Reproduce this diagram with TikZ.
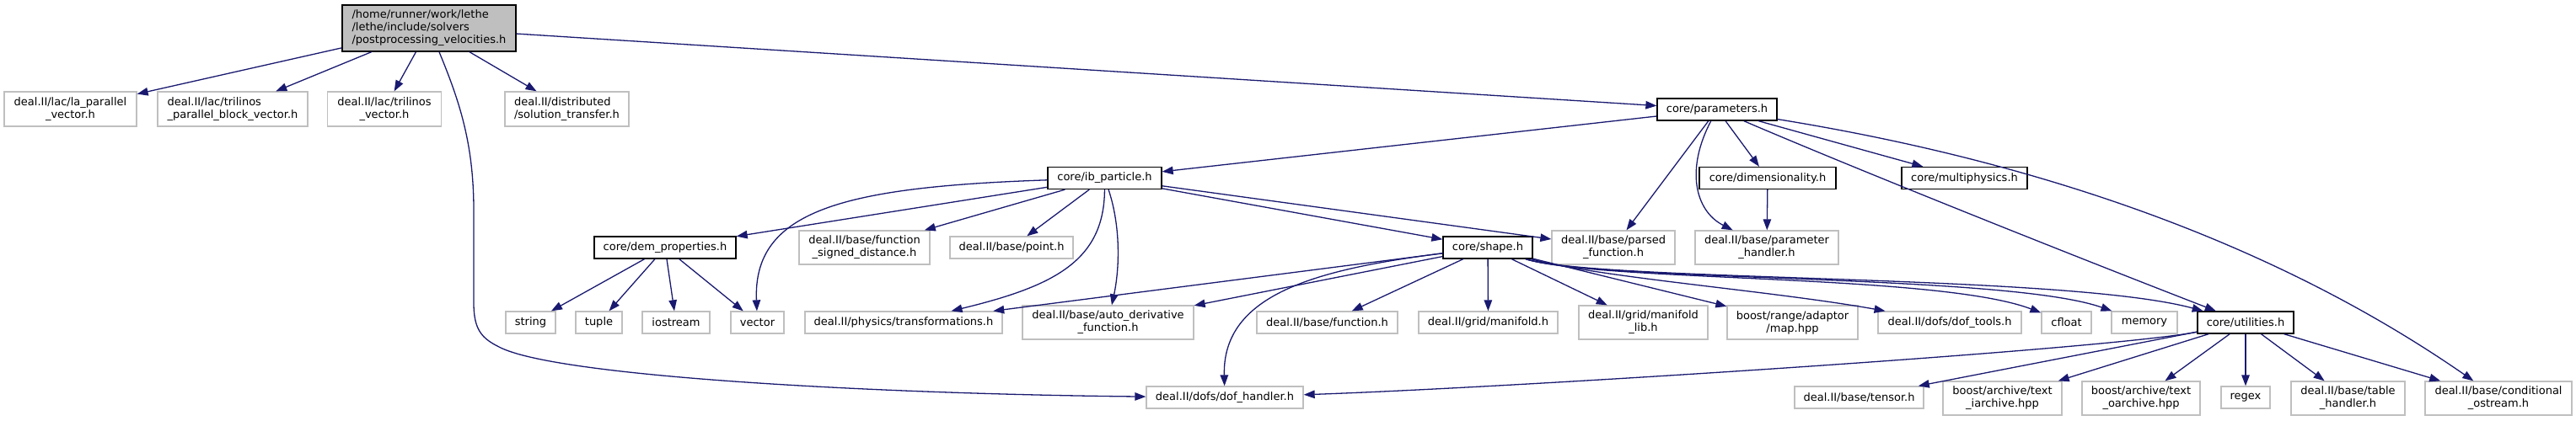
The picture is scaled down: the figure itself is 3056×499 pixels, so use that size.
\documentclass[tikz,border=0pt]{standalone}
\usepackage{fontspec}
\setmainfont{DejaVu Sans}
\usepackage{tikz}
\usetikzlibrary{arrows.meta}
\definecolor{edgeB}{HTML}{191970}
\definecolor{extG}{HTML}{BFBFBF}
\definecolor{rootG}{HTML}{BFBFBF}

\begin{document}
\begin{tikzpicture}[x=1pt, y=-1pt, font=\fontsize{13}{15}\selectfont,
  hdr/.style={draw=black, line width=1.3pt, fill=white, inner sep=0pt},
  ext/.style={draw=extG, line width=1.3pt, fill=white, inner sep=0pt},
  dep/.style={draw=edgeB, line width=1.3pt, -{Triangle[length=13pt, width=9.5pt]}}]
  \useasboundingbox (0,0) rectangle (3056,499);

  % lethe headers
  \node[hdr, fill=rootG, minimum width=206, minimum height=55, align=left] (root) at (509,33.5)
    {/home/runner/work/lethe\\/lethe/include/solvers\\/postprocessing\_velocities.h};
  \foreach \nm/\cx/\cy/\w/\txt in {
    params/2037/130/142/{core/parameters.h},
    ibPart/1310.5/211.5/135/{core/ib\_particle.h},
    dimens/2097/211.5/162/{core/dimensionality.h},
    multiPh/2330.5/211.5/149/{core/multiphysics.h},
    demProp/789/294/168/{core/dem\_properties.h},
    shape/1765/294/106/{core/shape.h},
    utils/2664/383/114/{core/utilities.h}}{
    \node[hdr, minimum width=\w, minimum height=26] (\nm) at (\cx,\cy) {\txt};
  }

  % external headers
  \foreach \nm/\cx/\cy/\w/\h/\al/\txt in {
    laVec/83.5/129.5/157/41/center/{deal.II/lac/la\_parallel\\\_vector.h},
    triPB/276/129.5/178/41/left/{deal.II/lac/trilinos\\\_parallel\_block\_vector.h},
    triVec/456/129.5/135/41/center/{deal.II/lac/trilinos\\\_vector.h},
    solTr/672.5/129.5/147/41/left/{deal.II/distributed\\/solution\_transfer.h},
    sgnDist/1025.5/294/155/40/center/{deal.II/base/function\\\_signed\_distance.h},
    point/1200/294/146/26/center/{deal.II/base/point.h},
    parsFn/1914/294/146/40/center/{deal.II/base/parsed\\\_function.h},
    parHdl/2096/294/170/40/center/{deal.II/base/parameter\\\_handler.h},
    string/629.5/383/59/26/center/{string},
    tuple/710.5/383/55/26/center/{tuple},
    iostr/802/383/80/26/center/{iostream},
    vector/898.5/383/63/26/center/{vector},
    transf/1072/383/234/26/center/{deal.II/physics/transformations.h},
    autoDer/1314.5/383/203/40/center/{deal.II/base/auto\_derivative\\\_function.h},
    func/1574.5/383/167/26/center/{deal.II/base/function.h},
    manif/1765.5/383/165/26/center/{deal.II/grid/manifold.h},
    manLib/1949.5/383/153/40/center/{deal.II/grid/manifold\\\_lib.h},
    mapHpp/2126.5/383/155/40/center/{boost/range/adaptor\\/map.hpp},
    dofTools/2313/383/170/26/center/{deal.II/dofs/dof\_tools.h},
    cfloat/2451.5/383/59/26/center/{cfloat},
    memory/2544/383/78/26/center/{memory},
    dofHdl/1453/472/186/26/center/{deal.II/dofs/dof\_handler.h},
    tensor/2205.5/472/153/26/center/{deal.II/base/tensor.h},
    iArch/2375.5/473/141/40/center/{boost/archive/text\\\_iarchive.hpp},
    oArch/2540/473/140/40/center/{boost/archive/text\\\_oarchive.hpp},
    regex/2664/472/58/26/center/{regex},
    tabHdl/2785.5/473/135/40/center/{deal.II/base/table\\\_handler.h},
    condOs/2964/473/174/40/center/{deal.II/base/conditional\\\_ostream.h}}{
    \node[ext, minimum width=\w, minimum height=\h, align=\al] (\nm) at (\cx,\cy) {\txt};
  }

  % straight includes
  \foreach \a/\b in {
    root/laVec, root/triPB, root/triVec, root/solTr, root/params,
    params/ibPart, params/parsFn, params/dimens, params/multiPh,
    dimens/parHdl,
    ibPart/demProp, ibPart/sgnDist, ibPart/point, ibPart/parsFn, ibPart/shape,
    demProp/string, demProp/tuple, demProp/iostr, demProp/vector,
    shape/transf, shape/autoDer, shape/func, shape/manif, shape/manLib, shape/mapHpp,
    utils/tensor, utils/iArch, utils/oArch, utils/regex, utils/tabHdl, utils/condOs}{
    \draw[dep] (\a) -- (\b);
  }

  % curved includes
  \draw[dep] ([xshift=12pt]root.south) .. controls (545,120) and (562,170) .. (562,250)
    -- (562,360) .. controls (562,392) and (572,402) .. (592,412)
    .. controls (660,448) and (1050,468) .. (dofHdl);
  \draw[dep] (params) .. controls (2000,200) and (2010,250) .. (parHdl);
  \draw[dep] (params) .. controls (2200,200) and (2450,300) .. (utils);
  \draw[dep] (params) .. controls (2439,195) and (2712,298) .. (condOs);
  \draw[dep] (ibPart) .. controls (1000,222) and (893,250) .. (vector);
  \draw[dep] (ibPart) .. controls (1310,310) and (1250,340) .. (transf);
  \draw[dep] (ibPart) .. controls (1330,270) and (1328,320) .. (autoDer);
  \draw[dep] (shape) .. controls (1560,320) and (1450,350) .. (dofHdl);
  \draw[dep] (shape) .. controls (1900,330) and (2100,345) .. (dofTools);
  \draw[dep] (shape) .. controls (1900,335) and (2300,325) .. (cfloat);
  \draw[dep] (shape) .. controls (1900,335) and (2380,325) .. (memory);
  \draw[dep] (shape) .. controls (1900,335) and (2450,325) .. (utils);
  \draw[dep] (utils) .. controls (2500,415) and (1800,460) .. (dofHdl);
\end{tikzpicture}
\end{document}
